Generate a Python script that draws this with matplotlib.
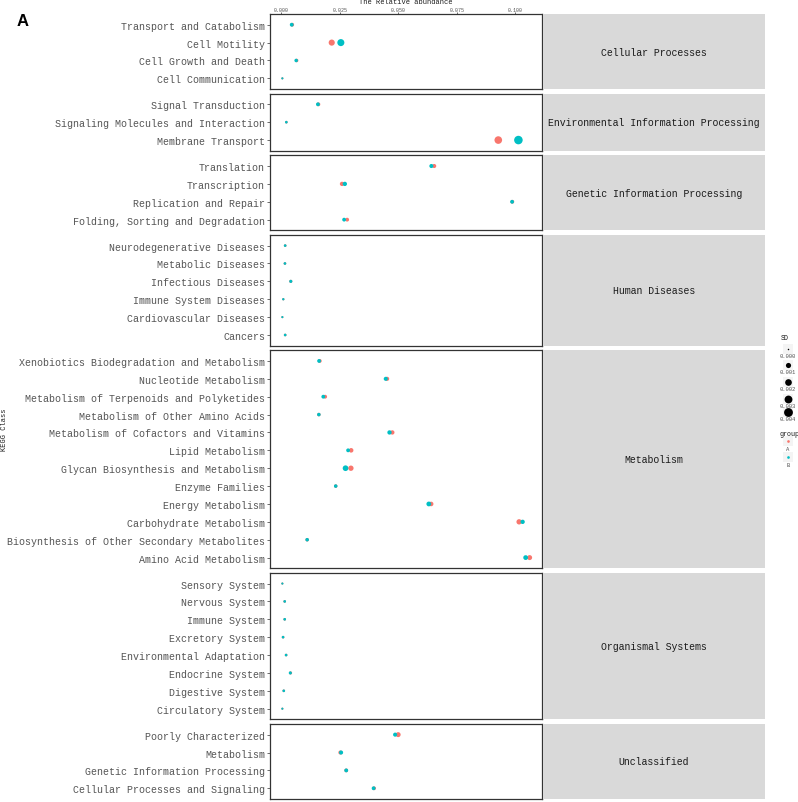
import matplotlib
matplotlib.use("Agg")
import matplotlib.pyplot as plt
import numpy as np

# ---------------- data ----------------
classes = ["Cellular Processes", "Environmental Information Processing",
           "Genetic Information Processing", "Human Diseases", "Metabolism",
           "Organismal Systems", "Unclassified"]

pathways = [
    # Cellular Processes
    "Transport and Catabolism", "Cell Motility", "Cell Growth and Death", "Cell Communication",
    # Environmental Information Processing
    "Signal Transduction", "Signaling Molecules and Interaction", "Membrane Transport",
    # Genetic Information Processing
    "Translation", "Transcription", "Replication and Repair", "Folding, Sorting and Degradation",
    # Human Diseases
    "Neurodegenerative Diseases", "Metabolic Diseases", "Infectious Diseases",
    "Immune System Diseases", "Cardiovascular Diseases", "Cancers",
    # Metabolism
    "Xenobiotics Biodegradation and Metabolism", "Nucleotide Metabolism",
    "Metabolism of Terpenoids and Polyketides", "Metabolism of Other Amino Acids",
    "Metabolism of Cofactors and Vitamins", "Lipid Metabolism",
    "Glycan Biosynthesis and Metabolism", "Enzyme Families", "Energy Metabolism",
    "Carbohydrate Metabolism", "Biosynthesis of Other Secondary Metabolites",
    "Amino Acid Metabolism",
    # Organismal Systems
    "Sensory System", "Nervous System", "Immune System", "Excretory System",
    "Environmental Adaptation", "Endocrine System", "Digestive System", "Circulatory System",
    # Unclassified
    "Poorly Characterized", "Metabolism", "Genetic Information Processing",
    "Cellular Processes and Signaling",
]

pathway_class = ([0] * 4 + [1] * 3 + [2] * 4 + [3] * 6 + [4] * 12 + [5] * 8 + [6] * 4)

abund_A = [0.0046, 0.0215, 0.0065, 0.0004,
           0.0158, 0.0021, 0.0927,
           0.0653, 0.0259, 0.0987, 0.0281,
           0.0016, 0.0015, 0.0040, 0.0008, 0.0004, 0.0016,
           0.0164, 0.0452, 0.0187, 0.0160, 0.0474, 0.0298, 0.0297, 0.0232,
           0.0640, 0.1016, 0.0110, 0.1061,
           0.0004, 0.0014, 0.0014, 0.0007, 0.0020, 0.0039, 0.0010, 0.0004,
           0.0499, 0.0252, 0.0277, 0.0396]

abund_B = [0.0044, 0.0254, 0.0063, 0.0004,
           0.0156, 0.0021, 0.1013,
           0.0641, 0.0271, 0.0986, 0.0268,
           0.0016, 0.0015, 0.0040, 0.0008, 0.0004, 0.0016,
           0.0161, 0.0446, 0.0179, 0.0160, 0.0462, 0.0285, 0.0274, 0.0232,
           0.0630, 0.1031, 0.0110, 0.1044,
           0.0004, 0.0014, 0.0014, 0.0007, 0.0020, 0.0038, 0.0010, 0.0004,
           0.0486, 0.0255, 0.0277, 0.0394]

sd_A = [0.0004, 0.0016, 0.0003, 0.00003,
        0.0004, 0.0001, 0.0028,
        0.0005, 0.0006, 0.0004, 0.0004,
        0.0001, 0.0001, 0.0002, 0.00005, 0.00003, 0.0001,
        0.0004, 0.0005, 0.0004, 0.0003, 0.0006, 0.0007, 0.0011, 0.0003,
        0.0007, 0.0011, 0.0003, 0.0009,
        0.00003, 0.0001, 0.0001, 0.0001, 0.0001, 0.0002, 0.0001, 0.00003,
        0.0009, 0.0005, 0.0004, 0.0004]

sd_B = [0.0004, 0.0023, 0.0003, 0.00003,
        0.0004, 0.0001, 0.0037,
        0.0005, 0.0006, 0.0004, 0.0004,
        0.0001, 0.0001, 0.0002, 0.00005, 0.00003, 0.0001,
        0.0004, 0.0005, 0.0004, 0.0003, 0.0006, 0.0004, 0.0013, 0.0003,
        0.0008, 0.0006, 0.0003, 0.0008,
        0.00003, 0.0001, 0.0001, 0.0001, 0.0001, 0.0002, 0.0001, 0.00003,
        0.0005, 0.0005, 0.0004, 0.0004]

groups = ["A", "B"]
group_colors = ["#F8766D", "#00BFC4"]
sd_breaks = [0.000, 0.001, 0.002, 0.003, 0.004]
x_ticks = [0.000, 0.025, 0.050, 0.075, 0.100]

# ---------------- layout ----------------
W, H = 798, 803
DPI = 100
MONO = ["Liberation Mono", "DejaVu Sans Mono"]
TXT = "#555555"
fig = plt.figure(figsize=(W / DPI, H / DPI), dpi=DPI)
fig.patch.set_facecolor("white")

SD_MAX = 0.0042


def diam_px(sd):
    return 1.5 + 7.5 * np.sqrt(np.clip(np.asarray(sd), 0, None) / SD_MAX)


def size_pts2(sd):
    d = diam_px(sd) * 72.0 / DPI
    return d ** 2


panel_left, panel_right = 270, 542
strip_left, strip_right = 543, 765
top_px, bottom_px, gap_px = 15, 800, 4.5

pc = np.array(pathway_class)
counts = [int((pc == i).sum()) for i in range(len(classes))]
units = [n + 0.2 for n in counts]
unit_px = (bottom_px - top_px - gap_px * (len(classes) - 1)) / sum(units)

all_vals = np.concatenate([abund_A, abund_B])
rng = all_vals.max() - all_vals.min()
xlim = (all_vals.min() - 0.05 * rng, all_vals.max() + 0.05 * rng)

y_cursor = top_px
for ci, cname in enumerate(classes):
    h = units[ci] * unit_px
    rect = [panel_left / W, 1 - (y_cursor + h) / H, (panel_right - panel_left) / W, h / H]
    ax = fig.add_axes(rect)
    idx = np.where(pc == ci)[0]
    names = [pathways[i] for i in idx]
    ypos = np.arange(len(idx))
    for gi, (vals, sds) in enumerate([(abund_A, sd_A), (abund_B, sd_B)]):
        v = np.array(vals)[idx]
        s = np.array(sds)[idx]
        ax.scatter(v, ypos, s=size_pts2(s), color=group_colors[gi],
                   linewidths=0, zorder=3 + gi)
    ax.set_xlim(*xlim)
    ax.set_ylim(len(idx) - 0.4, -0.6)
    ax.set_yticks(ypos)
    ax.set_yticklabels(names, fontsize=7.2, color=TXT, family=MONO)
    ax.tick_params(axis="y", length=2, width=0.5, color="#333333", pad=1.5)
    for sp in ax.spines.values():
        sp.set_color("#333333")
        sp.set_linewidth(0.9)
    ax.set_facecolor("white")
    if ci == 0:
        ax.xaxis.tick_top()
        ax.set_xticks(x_ticks)
        ax.set_xticklabels([f"{t:.3f}" for t in x_ticks], fontsize=3.6,
                           color=TXT, family=MONO)
        ax.tick_params(axis="x", length=1.5, width=0.5, color="#333333", pad=0.3)
    else:
        ax.set_xticks([])

    # strip
    sax = fig.add_axes([strip_left / W, 1 - (y_cursor + h) / H,
                        (strip_right - strip_left) / W, h / H])
    sax.set_facecolor("#D9D9D9")
    sax.set_xticks([])
    sax.set_yticks([])
    for sp in sax.spines.values():
        sp.set_visible(False)
    sax.text(0.5, 0.5, cname, ha="center", va="center", fontsize=7.1,
             color="#1A1A1A", family=MONO, transform=sax.transAxes)

    y_cursor += h + gap_px

# axis titles
fig.text(406 / W, 1 - 3.0 / H, "The Relative abundance", ha="center", va="center",
         fontsize=5.0, color="#1A1A1A", family=MONO)
fig.text(5 / W, 1 - 430 / H, "KEGG Class", ha="center", va="center", rotation=90,
         fontsize=5.0, color="#1A1A1A", family=MONO)
fig.text(23 / W, 1 - 22 / H, "A", ha="center", va="center", fontsize=12,
         fontweight="bold", family=["Liberation Sans", "DejaVu Sans"], color="black")

# legend (manual, in pixel coordinates)
lax = fig.add_axes([0, 0, 1, 1], zorder=10)
lax.set_xlim(0, W)
lax.set_ylim(H, 0)
lax.axis("off")
lax.patch.set_alpha(0)
lx = 788
lax.text(781, 339, "SD", ha="left", va="center", fontsize=4.8, color="#1A1A1A", family=MONO)
key_y = [350, 366, 383, 400, 413]
for b, ky in zip(sd_breaks, key_y):
    lax.add_patch(plt.Rectangle((lx - 5, ky - 5), 10, 10, color="#F4F4F4", lw=0))
    lax.scatter([lx], [ky], s=size_pts2(b), color="black", linewidths=0)
    lax.text(lx, ky + 7, f"{b:.3f}", ha="center", va="center", fontsize=4.0,
             color=TXT, family=MONO)
lax.text(779, 435, "group", ha="left", va="center", fontsize=4.8, color="#1A1A1A", family=MONO)
for g, col, ky in zip(groups, group_colors, [442, 458]):
    lax.add_patch(plt.Rectangle((lx - 5, ky - 5), 10, 10, color="#F4F4F4", lw=0))
    lax.scatter([lx], [ky], s=size_pts2(0.0001), color=col, linewidths=0)
    lax.text(lx, ky + 8, g, ha="center", va="center", fontsize=4.0,
             color=TXT, family=MONO)

fig.savefig("out.png", dpi=DPI)
